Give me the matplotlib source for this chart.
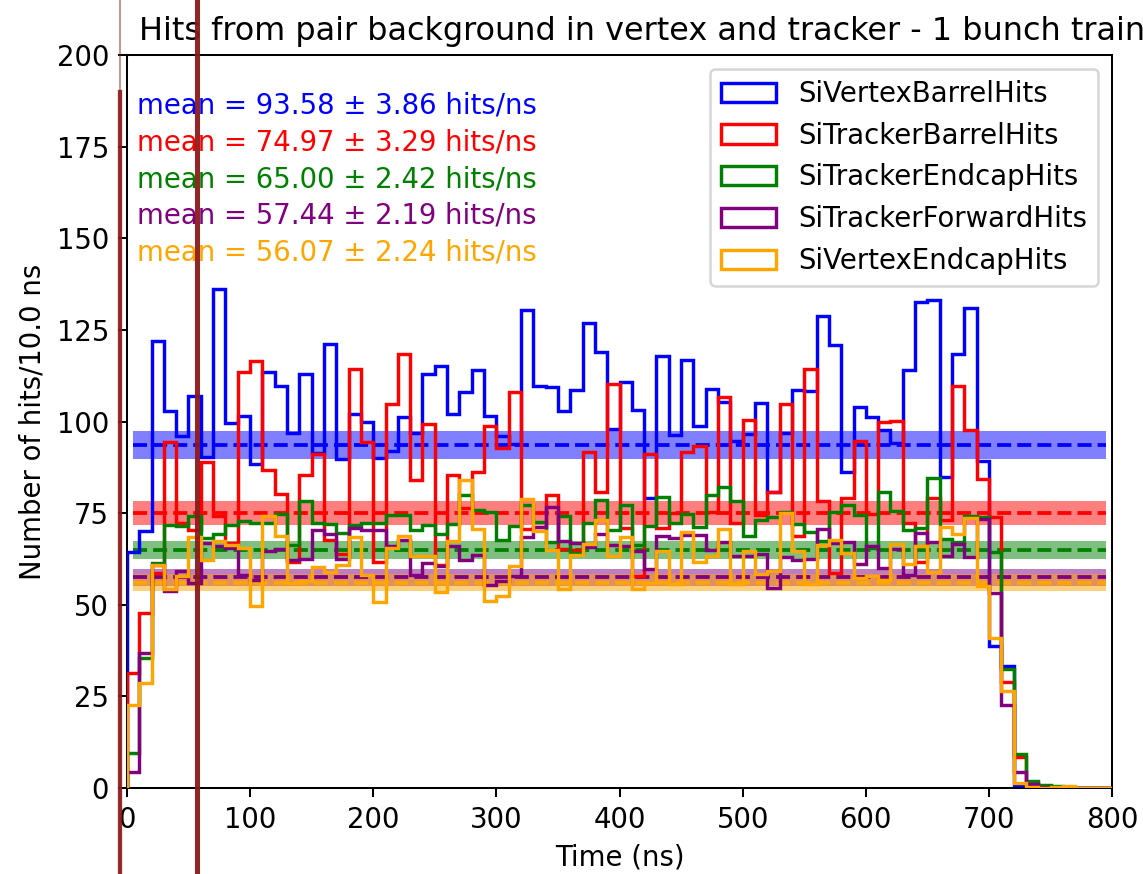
import numpy as np
import matplotlib
matplotlib.use("Agg")
import matplotlib.pyplot as plt
from matplotlib.patches import Patch

# ---------------- data ----------------
bin_edges = np.arange(0, 810, 10)  # ns

labels = ["SiVertexBarrelHits", "SiTrackerBarrelHits", "SiTrackerEndcapHits",
          "SiTrackerForwardHits", "SiVertexEndcapHits"]
colors = ["blue", "red", "green", "purple", "orange"]

vtx_barrel = [64.3, 70.0, 121.9, 103.0, 96.0, 106.9, 90.2, 136.2, 99.6, 101.6,
              88.4, 113.4, 109.6, 97.0, 113.0, 91.4, 121.2, 89.8, 102.1, 100.0,
              90.0, 91.9, 101.2, 96.9, 113.0, 115.1, 102.0, 108.0, 114.0, 101.6,
              96.1, 94.0, 130.5, 109.6, 109.4, 103.0, 108.7, 126.9, 119.1, 98.0,
              110.7, 103.2, 79.1, 118.0, 96.4, 116.9, 98.7, 109.0, 105.3, 94.6,
              96.7, 105.0, 80.9, 97.0, 108.5, 108.2, 128.7, 121.0, 86.2, 103.9,
              101.1, 97.8, 94.1, 114.1, 132.5, 133.1, 84.9, 118.3, 130.9, 89.1,
              38.8, 33.2, 0.7, 0, 0, 0, 0, 0, 0, 0]

trk_barrel = [31.4, 47.7, 58.8, 94.4, 72.3, 70.5, 89.0, 74.1, 66.8, 113.4,
              116.4, 86.9, 80.3, 61.8, 85.5, 91.2, 67.8, 63.9, 114.4, 94.4,
              61.6, 104.7, 118.5, 84.1, 99.3, 60.8, 85.3, 76.4, 86.1, 98.9,
              92.8, 108.0, 70.7, 71.2, 80.0, 65.2, 65.0, 91.7, 80.8, 110.3,
              70.9, 57.9, 91.1, 70.9, 75.0, 91.6, 93.2, 75.3, 106.6, 72.3,
              100.5, 74.6, 80.8, 104.9, 68.8, 114.4, 78.4, 58.8, 79.1, 94.8,
              74.8, 99.9, 100.2, 72.3, 61.8, 79.1, 73.0, 109.8, 97.8, 84.3,
              74.0, 28.8, 8.5, 1.4, 0.3, 0, 0, 0, 0, 0]

trk_endcap = [9.5, 35.5, 61.4, 71.9, 71.4, 74.3, 68.2, 69.4, 71.9, 72.8,
              72.3, 72.3, 74.8, 66.4, 78.2, 72.3, 72.0, 69.6, 71.9, 72.3,
              72.3, 74.4, 74.6, 70.5, 71.9, 69.4, 72.1, 79.9, 75.8, 75.3,
              67.6, 71.4, 77.1, 72.6, 67.0, 74.3, 64.1, 72.3, 78.5, 70.5,
              77.3, 66.2, 71.4, 79.4, 72.3, 74.8, 71.2, 80.0, 82.1, 78.2,
              68.7, 73.0, 73.9, 75.3, 72.0, 69.8, 67.3, 75.2, 77.1, 74.6,
              65.5, 80.7, 75.7, 70.3, 70.9, 84.6, 67.9, 67.0, 74.1, 73.9,
              64.3, 32.6, 9.4, 1.8, 0.7, 0.5, 0, 0, 0, 0]

trk_forward = [4.5, 36.8, 60.9, 53.7, 59.1, 55.9, 66.8, 65.9, 65.5, 58.2,
               56.8, 64.6, 65.2, 62.1, 62.5, 70.3, 69.4, 62.5, 70.9, 70.3,
               70.3, 65.9, 67.6, 58.2, 61.4, 60.7, 65.9, 62.3, 63.7, 55.5,
               56.4, 57.8, 68.4, 71.1, 76.6, 67.3, 66.8, 65.8, 69.4, 66.4,
               65.9, 64.6, 59.8, 68.9, 68.2, 69.1, 69.1, 65.0, 67.1, 63.4,
               63.4, 63.9, 54.6, 63.1, 62.1, 62.5, 70.8, 66.8, 67.1, 61.1,
               65.9, 60.0, 65.2, 58.2, 69.6, 67.0, 63.2, 66.7, 63.0, 73.4,
               53.2, 22.7, 4.4, 1.2, 0.3, 0, 0, 0, 0, 0]

vtx_endcap = [22.7, 28.6, 60.9, 54.3, 57.9, 68.5, 62.3, 67.3, 66.4, 65.5,
              49.7, 74.1, 68.9, 55.9, 56.4, 60.3, 58.9, 60.8, 68.4, 58.0,
              50.7, 65.5, 68.7, 63.4, 63.4, 53.5, 67.3, 84.1, 70.7, 50.9,
              52.3, 60.7, 78.9, 70.0, 65.0, 54.4, 63.7, 66.6, 73.0, 63.4,
              68.5, 54.4, 55.9, 64.8, 55.7, 69.8, 61.8, 63.2, 70.7, 55.8,
              64.8, 58.4, 59.3, 75.1, 64.6, 55.8, 66.4, 67.6, 64.1, 57.3,
              57.9, 56.8, 66.6, 61.2, 65.9, 58.9, 71.2, 69.4, 73.6, 55.0,
              40.9, 26.4, 1.5, 0.3, 0, 0.3, 0.5, 0, 0, 0]

means = [93.58, 74.97, 65.00, 57.44, 56.07]
errors = [3.86, 3.29, 2.42, 2.19, 2.24]

marker_times = [-5.5, 57.0]  # dark red vertical markers (ns)

series = [vtx_barrel, trk_barrel, trk_endcap, trk_forward, vtx_endcap]

# ---------------- plot ----------------
plt.rcParams["font.size"] = 10.9

fig = plt.figure(figsize=(1143 / 182, 874 / 182), dpi=182)
ax = fig.add_axes([0.111, 0.0984, 0.862, 0.8386])

centers = 0.5 * (bin_edges[:-1] + bin_edges[1:])

for vals, col, lab, m, e in zip(series, colors, labels, means, errors):
    ax.fill_between(centers, m - e, m + e, color=col, alpha=0.5, lw=0, zorder=1)

for vals, col, lab, m, e in zip(series, colors, labels, means, errors):
    ax.stairs(vals, bin_edges, color=col, lw=1.35, baseline=0, zorder=3, label=lab)
    ax.plot(centers, np.full_like(centers, m), ls="--", color=col, lw=1.5, zorder=2)

for i, (col, m, e) in enumerate(zip(colors, means, errors)):
    ax.text(0.01, 0.95 - 0.05 * i, f"mean = {m:.2f} \u00b1 {e:.2f} hits/ns",
            transform=ax.transAxes, color=col, fontsize=10.9, va="top", ha="left")

handles = [Patch(facecolor="none", edgecolor=c, lw=1.35) for c in colors]
ax.legend(handles, labels, loc="upper right", fontsize=10.9)

ax.set_xlim(0, 800)
ax.set_ylim(0, 200)
ax.set_xticks(np.arange(0, 801, 100))
ax.set_yticks(np.arange(0, 201, 25))
ax.set_xlabel("Time (ns)")
ax.set_ylabel("Number of hits/10.0 ns")
ax.set_title("Hits from pair background in vertex and tracker - 1 bunch train",
             fontsize=12.6, x=0.523)

# dark red vertical marker lines extending beyond the axes
ax.axvline(marker_times[0], ymin=-0.2, ymax=1.2, color="#8B1A1A", lw=0.8, alpha=0.45,
           clip_on=False, zorder=5)
ax.axvline(marker_times[0], ymin=-0.2, ymax=0.95, color="#8B1A1A", lw=1.7, alpha=0.9,
           clip_on=False, zorder=5)
ax.axvline(marker_times[1], ymin=-0.2, ymax=1.2, color="#8B1A1A", lw=2.0, alpha=0.95,
           clip_on=False, zorder=5)

fig.savefig("out.png", dpi=182)
